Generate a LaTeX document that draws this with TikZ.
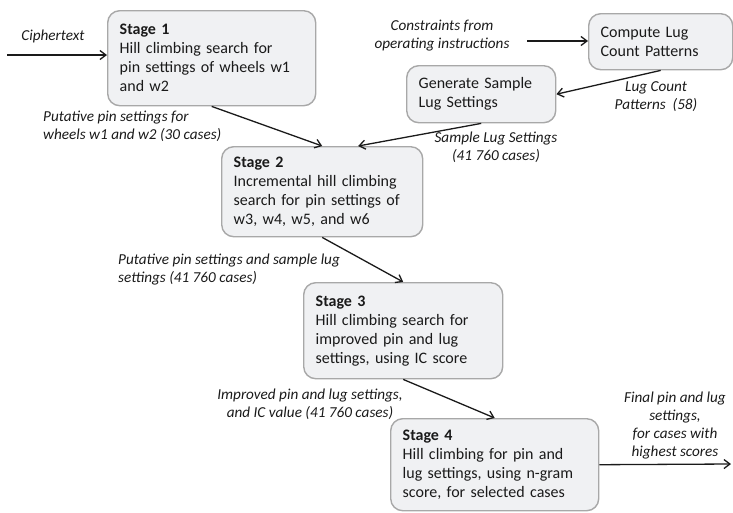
\documentclass[tikz,border=0pt]{standalone}
\usepackage{fontspec}
\setmainfont{Carlito}
\usetikzlibrary{calc,arrows.meta}
\definecolor{boxfill}{HTML}{F0F1F3}
\definecolor{boxline}{HTML}{A8A8A8}
\definecolor{ink}{HTML}{1A1A1A}
\tikzset{
  stagebox/.style={draw=boxline, line width=1.4pt, fill=boxfill, rounded corners=12pt,
    anchor=north west, align=left, inner xsep=12pt, inner ysep=0pt,
    font=\fontsize{16}{19}\selectfont, text=ink},
  lbl/.style={font=\fontsize{15.2}{18}\selectfont\itshape, text=ink, inner sep=0pt},
  arr/.style={draw=ink, line width=1.3pt, -{Straight Barb[length=6pt,width=9pt,line width=1.3pt]}}
}
\begin{document}
\begin{tikzpicture}[x=1pt,y=-1pt]
\useasboundingbox (0,0) rectangle (733,512);
% boxes
\node[stagebox, minimum width=208pt, minimum height=95pt, text width=184pt] (s1) at (107,10)
  {\textbf{Stage 1}\\Hill climbing search for\\pin settings of wheels w1\\and w2};
\node[stagebox, minimum width=144pt, minimum height=56pt, text width=120pt] (comp) at (588,13)
  {Compute Lug\\Count Patterns};
\node[stagebox, minimum width=149pt, minimum height=57pt, text width=125pt] (gen) at (406,65)
  {Generate Sample\\Lug Settings};
\node[stagebox, minimum width=201pt, minimum height=90pt, text width=177pt] (s2) at (221,146)
  {\textbf{Stage 2}\\Incremental hill climbing\\search for pin settings of\\w3, w4, w5, and w6};
\node[stagebox, minimum width=199pt, minimum height=96pt, text width=175pt] (s3) at (303,282)
  {\textbf{Stage 3}\\Hill climbing search for\\improved pin and lug\\settings, using IC score};
\node[stagebox, minimum width=208pt, minimum height=92pt, text width=184pt] (s4) at (390,418)
  {\textbf{Stage 4}\\Hill climbing for pin and\\lug settings, using n-gram\\score, for selected cases};
% free ends
\coordinate (cin) at (7,55);
\coordinate (consin) at (527,41);
\coordinate (fout) at (731,464);
% connectors
\draw[arr] (cin) -- (cin -| s1.west);
\draw[arr] (consin) -- (consin -| comp.west);
\draw[arr] (comp.south) -- (gen.east);
\draw[arr] (s1.south) -- (s2.north);
\draw[arr] (gen.south) -- ([xshift=36pt]s2.north);
\draw[arr] (s2.south) -- (s3.north);
\draw[arr] (s3.south) -- (s4.north);
\draw[arr] (s4.east) -- (fout);
% labels
\node[lbl] (lc) at (53,36) {Ciphertext};
\node[lbl, align=center] (lcons) at (442,36) {Constraints from\\operating instructions};
\node[lbl, align=center] (llug) at (656,97) {Lug Count\\Patterns\ \ (58)};
\node[lbl, align=center] (lsamp) at (496,147) {Sample Lug Settings\\(41 760 cases)};
\node[lbl, align=left, anchor=west] (lput1) at (43,126) {Putative pin settings for\\wheels w1 and w2 (30 cases)};
\node[lbl, align=left, anchor=west] (lput2) at (118,270) {Putative pin settings and sample lug\\settings (41 760 cases)};
\node[lbl, align=center] (limp) at (310,404) {Improved pin and lug settings,\\and IC value (41 760 cases)};
\node[lbl, align=center] (lfin) at (675,426) {Final pin and lug\\settings,\\for cases with\\highest scores};
\end{tikzpicture}
\end{document}
